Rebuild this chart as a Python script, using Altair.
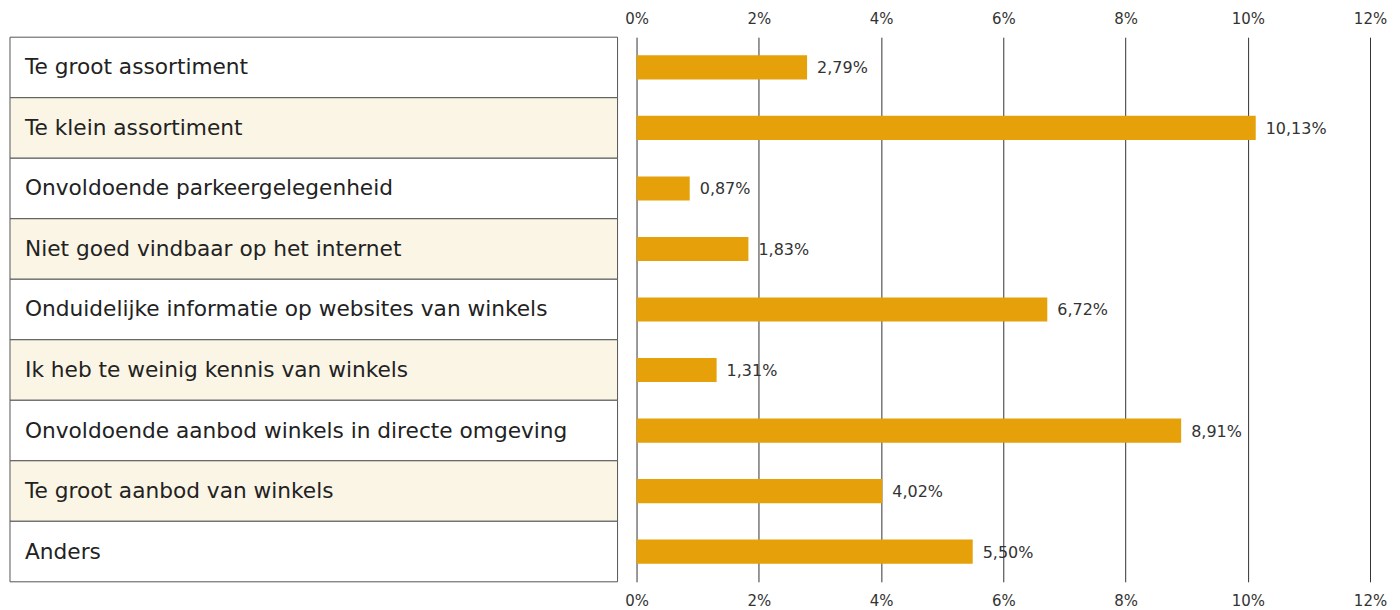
import altair as alt
import pandas as pd

categories = [
    "Te groot assortiment",
    "Te klein assortiment",
    "Onvoldoende parkeergelegenheid",
    "Niet goed vindbaar op het internet",
    "Onduidelijke informatie op websites van winkels",
    "Ik heb te weinig kennis van winkels",
    "Onvoldoende aanbod winkels in directe omgeving",
    "Te groot aanbod van winkels",
    "Anders",
]
values = [2.79, 10.13, 0.87, 1.83, 6.72, 1.31, 8.91, 4.02, 5.50]
tick_values = [0, 2, 4, 6, 8, 10, 12]

FONT = "DejaVu Sans"
H = 545

df = pd.DataFrame({
    "cat": categories,
    "val": values,
    "label": [f"{v:.2f}%".replace(".", ",") for v in values],
    "fill": ["#ffffff" if i % 2 == 0 else "#fbf5e6" for i in range(len(categories))],
})

yband = alt.Y("cat:N", sort=categories, axis=None,
              scale=alt.Scale(paddingInner=0, paddingOuter=0))

table_rect = alt.Chart(df).mark_rect(stroke="#555555", strokeWidth=1).encode(
    y=yband,
    x=alt.value(0), x2=alt.value(608),
    color=alt.Color("fill:N", scale=None),
)
table_text = alt.Chart(df).mark_text(align="left", baseline="middle", font=FONT,
                                     fontSize=21.7, color="#222222").encode(
    y=yband, x=alt.value(15), text="cat:N"
)
left = (table_rect + table_text).properties(width=608, height=H)

ybar = alt.Y("cat:N", sort=categories, axis=None,
             scale=alt.Scale(paddingInner=0.6, paddingOuter=0.3))
xscale = alt.Scale(domain=[0, 12], nice=False)

axis_common = dict(values=tick_values, labelExpr="datum.value + '%'", domain=False,
                   ticks=False, title=None, labelFlush=False,
                   labelFont=FONT, labelFontSize=15, labelColor="#333333")

bars = alt.Chart(df).mark_bar(color="#e5a00a").encode(
    y=ybar,
    x=alt.X("val:Q", scale=xscale,
            axis=alt.Axis(orient="top", grid=True, gridColor="#333333", gridWidth=1,
                          labelPadding=11, **axis_common)),
)
texts = alt.Chart(df).mark_text(align="left", baseline="middle", dx=10, dy=1, font=FONT,
                                fontSize=16, color="#333333").encode(
    y=ybar,
    x=alt.X("val:Q", scale=xscale,
            axis=alt.Axis(orient="bottom", grid=False, labelPadding=12, **axis_common)),
    text="label:N",
)
right = alt.layer(bars, texts).resolve_axis(x="independent").properties(width=734, height=H)

chart = alt.hconcat(left, right, spacing=19, bounds="flush").properties(
    padding={"left": 1, "top": 3, "right": 5, "bottom": 5}
).configure_view(stroke=None)

chart.save("out.html", embed_options={"renderer": "svg", "actions": False})
